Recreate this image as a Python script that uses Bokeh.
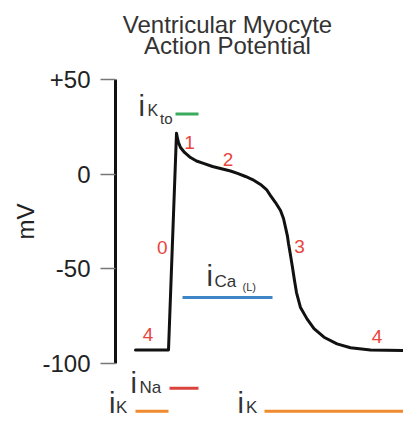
from bokeh.plotting import figure
from bokeh.models import (Range1d, FixedTicker, CustomJSTickFormatter, Label,
                          ColumnDataSource, LinearAxis)
from bokeh.embed import file_html
from bokeh.resources import INLINE

# ---- data -------------------------------------------------------------
time_ms = [-66, 0, 16, 18, 20, 24, 32, 44, 56, 70, 88, 104, 124, 138, 154, 168,
           184, 196, 204, 214, 224, 230, 234, 238, 240, 244, 248, 252, 256, 264,
           277, 291, 311, 337, 364, 404, 470]
voltage_mv = [-92.8, -92.8, 21.8, 19.0, 16.9, 14.2, 11.6, 8.9, 7.1, 5.8, 4.2, 3.1,
              1.8, 0.5, -1.1, -2.7, -5.3, -8.0, -11.2, -14.9, -19.1, -23.3, -28.0,
              -32.8, -36.5, -42.8, -49.2, -56.1, -62.5, -70.4, -76.4, -81.6, -86.1,
              -89.6, -91.7, -92.8, -93.1]

current_names = ["Kto", "Ca(L)", "Na", "K", "K"]
current_start_ms = [14, 28, 2, -66, 192]
current_end_ms = [60, 208, 60, 0, 470]

phase_labels = ["0", "1", "2", "3", "4", "4"]

ytick_values = [-100, -50, 0, 50]
title_lines = ["Ventricular Myocyte", "Action Potential"]

# ---- layout / style (positions) ---------------------------------------
current_colors = ["#3aaa5c", "#3d85c6", "#d9443f", "#ef8a2f", "#ef8a2f"]
current_rows = [32.0, -65.1, -113.1, -125.2, -125.2]

phase_x = [-12.6, 42, 119, 262, -41, 417]
phase_y = [-41.8, 13.7, 4.6, -41.3, -87.8, -88.9]
phase_color = "#e8453c"

AXIS_T = -106          # time at which the voltage axis is drawn
PX_PER_MV = 1.891
BASE_SHIFT = 0.33      # em: baseline correction for label rendering

FONT = "Liberation Sans"
TXT = "#333333"

p = figure(width=403, height=421,
           x_range=Range1d(-336, 470), y_range=Range1d(-130.67, 91.96),
           x_axis_location=None, y_axis_location=None,
           toolbar_location=None, output_backend="svg", min_border=0)
p.grid.visible = False
p.outline_line_color = None
p.background_fill_color = "white"
p.border_fill_color = "white"

ax = LinearAxis(fixed_location=AXIS_T)
ax.bounds = (min(ytick_values), max(ytick_values))
ax.ticker = FixedTicker(ticks=ytick_values)
ax.formatter = CustomJSTickFormatter(code="return (tick > 0 ? '+' : '') + tick.toFixed(0);")
ax.minor_tick_line_color = None
ax.major_tick_in = 0
ax.major_tick_out = 15
ax.major_tick_line_color = "#777777"
ax.major_tick_line_width = 1.5
ax.axis_line_color = "#111111"
ax.axis_line_width = 3
ax.major_label_standoff = 10
ax.major_label_text_font = FONT
ax.major_label_text_font_size = "24px"
ax.major_label_text_color = "#222222"
ax.axis_label = "mV"
ax.axis_label_text_font = FONT
ax.axis_label_text_font_size = "24px"
ax.axis_label_text_font_style = "normal"
ax.axis_label_text_color = "#222222"
ax.axis_label_standoff = 0
p.add_layout(ax, "left")


def add_text(text, x, y, size, color, align="left"):
    shift = BASE_SHIFT * size / PX_PER_MV
    p.add_layout(Label(x=x, y=y + shift, text=text, text_font=FONT,
                       text_font_size=f"{size}px", text_color=color,
                       text_align=align, text_baseline="alphabetic"))


# action potential trace
p.line(time_ms, voltage_mv, line_color="#111111", line_width=3,
       line_join="round", line_cap="round")

# current bars
src = ColumnDataSource(dict(x0=current_start_ms, x1=current_end_ms,
                            y=current_rows, c=current_colors))
p.segment(x0="x0", x1="x1", y0="y", y1="y", line_color="c", line_width=3, source=src)

# phase numbers
for t, x, y in zip(phase_labels, phase_x, phase_y):
    add_text(t, x, y, 19, phase_color, "center")

# current labels: big "i" followed by subscript parts
label_parts = [
    # (text, x, y, size)
    ("i", -60, 31.1, 29), ("K", -42, 31.1, 16), ("to", -17, 26.9, 15),
    ("i", 76, -58.7, 29), ("Ca", 92, -59.8, 17), ("(L)", 148, -61.4, 11),
    ("i", -76, -115.2, 29), ("Na", -58, -115.5, 17),
    ("i", -119, -126.0, 29), ("K", -105, -126.0, 17),
    ("i", 138, -126.0, 29), ("K", 155, -126.0, 17),
]
for t, x, y, s in label_parts:
    add_text(t, x, y, s, TXT)

# title
for line, y in zip(title_lines, [75.2, 63.8]):
    add_text(line, 118, y, 24, TXT, "center")

open("out.html", "w").write(file_html(p, INLINE))
